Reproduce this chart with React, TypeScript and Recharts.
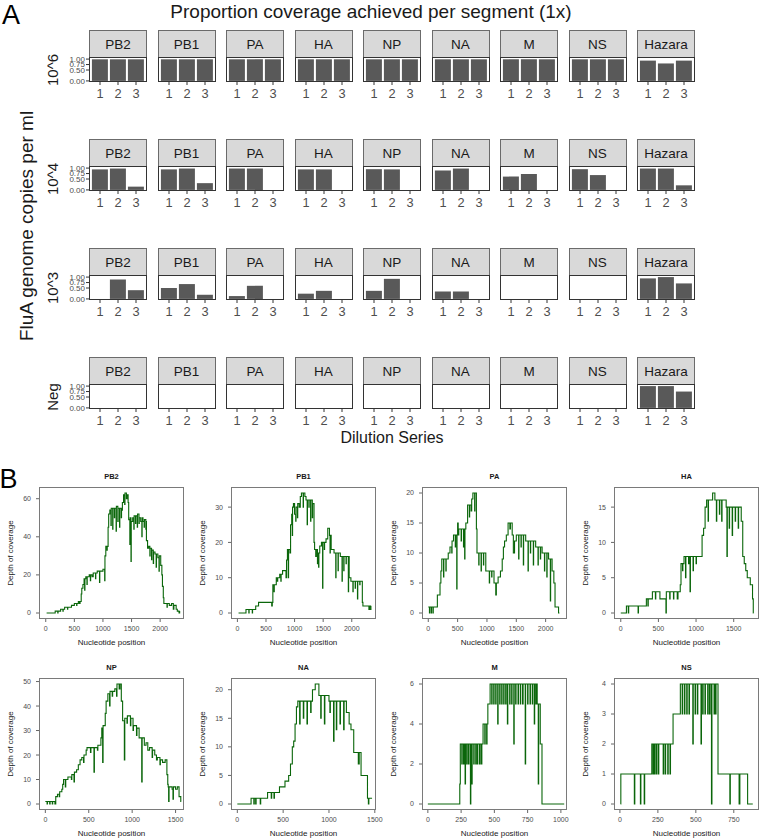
import React from 'react';
import { BarChart, Bar, XAxis, YAxis, LineChart, Line } from 'recharts';

const FONT = '"Liberation Sans", Arial, Helvetica, sans-serif';

// ---- Panel A: proportion of each segment covered at 1x ----
const segments = ['PB2', 'PB1', 'PA', 'HA', 'NP', 'NA', 'M', 'NS', 'Hazara'];
const dilutions = ['10^6', '10^4', '10^3', 'Neg'];
const replicates = ['1', '2', '3'];
const proportionTicks = [0, 0.5, 0.75, 1];

const coverage1e6 = [
  [0.99, 0.99, 0.99], [0.99, 0.99, 0.99], [0.99, 0.99, 0.99], [0.99, 0.99, 0.99], [0.99, 0.99, 0.99],
  [0.99, 0.99, 0.99], [0.99, 0.99, 0.99], [0.99, 0.99, 0.99], [0.93, 0.8, 0.93],
];
const coverage1e4 = [
  [0.94, 0.98, 0.15], [0.94, 0.98, 0.31], [0.98, 0.98, 0], [0.94, 0.94, 0], [0.95, 0.94, 0],
  [0.89, 0.98, 0], [0.61, 0.73, 0], [0.95, 0.68, 0], [0.98, 0.98, 0.21],
];
const coverage1e3 = [
  [0, 0.89, 0.4], [0.5, 0.68, 0.19], [0.13, 0.6, 0], [0.24, 0.37, 0], [0.37, 0.92, 0],
  [0.34, 0.34, 0], [0, 0, 0], [0, 0, 0], [0.94, 1, 0.71],
];
const coverageNeg = [
  [0, 0, 0], [0, 0, 0], [0, 0, 0], [0, 0, 0], [0, 0, 0],
  [0, 0, 0], [0, 0, 0], [0, 0, 0], [1, 1, 0.75],
];
const rowValues = [coverage1e6, coverage1e4, coverage1e3, coverageNeg];

// ---- Panel B: depth of coverage along each segment [position, depth] ----
const pb2Depth: [number, number][] = [
  [15, 0], [165, 1], [210, 0], [215, 1], [260, 2], [300, 1], [305, 2], [330, 3], [380, 2], [385, 3], [450, 4],
  [500, 5], [540, 4], [545, 5], [570, 6], [590, 5], [600, 6], [620, 10], [630, 13], [650, 15], [670, 18],
  [680, 12], [685, 18], [700, 19], [720, 15], [725, 19], [760, 20], [780, 17], [785, 20], [810, 19], [830, 21],
  [870, 18], [875, 21], [900, 22], [940, 16], [945, 22], [1000, 23], [1030, 17], [1035, 30], [1050, 35],
  [1070, 33], [1075, 35], [1090, 45], [1100, 52], [1120, 54], [1140, 46], [1145, 55], [1170, 44], [1175, 55],
  [1200, 50], [1205, 55], [1230, 43], [1235, 56], [1260, 48], [1265, 55], [1290, 45], [1295, 55], [1320, 50],
  [1325, 54], [1340, 58], [1360, 62], [1380, 57], [1385, 63], [1410, 60], [1420, 62], [1440, 58], [1450, 49],
  [1470, 36], [1475, 50], [1490, 27], [1495, 48], [1520, 50], [1540, 44], [1545, 51], [1570, 47], [1575, 51],
  [1600, 45], [1605, 52], [1630, 47], [1635, 50], [1660, 48], [1680, 40], [1685, 50], [1700, 48], [1720, 45],
  [1725, 49], [1750, 44], [1755, 48], [1760, 38], [1780, 34], [1800, 35], [1820, 30], [1825, 34], [1850, 28],
  [1855, 33], [1880, 26], [1885, 32], [1910, 31], [1930, 24], [1935, 31], [1960, 29], [1980, 22], [1985, 30],
  [2010, 25], [2030, 20], [2040, 14], [2055, 8], [2065, 5], [2100, 5], [2120, 3], [2125, 5], [2160, 4],
  [2200, 5], [2230, 2], [2240, 4], [2280, 2], [2300, 1], [2330, 0], [2341, 1],
];
const pb1Depth: [number, number][] = [
  [20, 0], [150, 1], [200, 0], [205, 1], [260, 0], [265, 1], [320, 2], [370, 3], [600, 2], [610, 3], [620, 8],
  [640, 6], [645, 8], [680, 10], [700, 9], [705, 10], [740, 11], [760, 9], [765, 11], [790, 12], [850, 10],
  [860, 15], [875, 18], [890, 10], [895, 18], [920, 17], [930, 25], [950, 28], [960, 22], [965, 30], [980, 31],
  [1000, 28], [1020, 26], [1025, 30], [1050, 27], [1055, 31], [1080, 30], [1100, 33], [1120, 34], [1150, 30],
  [1155, 34], [1180, 33], [1200, 32], [1220, 25], [1225, 32], [1250, 30], [1255, 32], [1280, 26], [1285, 32],
  [1310, 27], [1315, 31], [1340, 20], [1350, 18], [1370, 16], [1380, 18], [1400, 14], [1405, 17], [1420, 13],
  [1425, 17], [1440, 19], [1470, 20], [1490, 7], [1495, 20], [1520, 18], [1525, 20], [1550, 21], [1580, 24],
  [1610, 22], [1620, 17], [1625, 22], [1640, 18], [1690, 17], [1720, 10], [1725, 17], [1760, 12], [1765, 17],
  [1800, 16], [1830, 9], [1835, 16], [1860, 12], [1865, 16], [1900, 14], [1905, 16], [1940, 6], [1945, 16],
  [1955, 10], [1985, 9], [2020, 6], [2025, 9], [2060, 7], [2065, 9], [2100, 4], [2105, 9], [2140, 8],
  [2145, 9], [2185, 3], [2195, 2], [2300, 1], [2310, 2], [2330, 1], [2335, 2],
];
const paDepth: [number, number][] = [
  [0, 1], [20, 0], [25, 1], [50, 0], [55, 1], [80, 0], [85, 1], [155, 3], [190, 3], [200, 5], [215, 7],
  [230, 9], [260, 6], [265, 9], [300, 7], [305, 9], [340, 10], [370, 11], [400, 10], [405, 12], [430, 13],
  [460, 11], [465, 13], [485, 4], [490, 13], [500, 15], [510, 13], [520, 14], [560, 12], [565, 14], [600, 11],
  [605, 14], [620, 9], [625, 14], [640, 15], [670, 18], [700, 16], [705, 18], [730, 17], [740, 19], [760, 20],
  [790, 17], [795, 20], [820, 14], [830, 10], [860, 8], [865, 10], [900, 7], [905, 10], [940, 8], [945, 10],
  [980, 7], [1000, 7], [1040, 5], [1045, 7], [1080, 6], [1085, 7], [1120, 5], [1150, 3], [1160, 5], [1190, 6],
  [1230, 7], [1260, 9], [1280, 11], [1300, 12], [1330, 13], [1360, 15], [1390, 14], [1400, 15], [1430, 13],
  [1450, 10], [1470, 12], [1500, 13], [1540, 9], [1545, 13], [1580, 11], [1585, 13], [1620, 8], [1625, 13],
  [1660, 12], [1700, 7], [1705, 12], [1740, 10], [1745, 12], [1790, 8], [1795, 12], [1830, 11], [1870, 8],
  [1875, 11], [1910, 9], [1915, 11], [1940, 10], [1980, 7], [1985, 10], [2020, 6], [2025, 10], [2050, 9],
  [2080, 2], [2085, 9], [2110, 7], [2140, 5], [2160, 1], [2200, 1], [2220, 0], [2235, 0],
];
const haDepth: [number, number][] = [
  [0, 0], [75, 1], [100, 0], [105, 1], [230, 0], [235, 1], [340, 2], [360, 1], [365, 2], [420, 3], [460, 2],
  [465, 3], [500, 3], [520, 2], [560, 2], [600, 0], [605, 3], [650, 2], [655, 3], [700, 2], [705, 3], [750, 2],
  [760, 3], [790, 4], [800, 7], [820, 6], [825, 7], [840, 8], [860, 5], [865, 8], [900, 7], [905, 8], [920, 3],
  [925, 8], [960, 6], [965, 8], [1000, 7], [1005, 8], [1070, 8], [1080, 11], [1100, 12], [1120, 15],
  [1140, 16], [1160, 13], [1165, 16], [1220, 17], [1250, 16], [1270, 13], [1275, 16], [1310, 14], [1315, 16],
  [1340, 13], [1345, 16], [1400, 15], [1410, 8], [1415, 15], [1440, 12], [1445, 15], [1480, 11], [1485, 15],
  [1520, 13], [1525, 15], [1560, 12], [1565, 15], [1600, 13], [1620, 8], [1640, 7], [1660, 6], [1680, 5],
  [1720, 4], [1750, 2], [1760, 0], [1765, 0],
];
const npDepth: [number, number][] = [
  [0, 1], [20, 0], [25, 1], [50, 0], [55, 1], [80, 0], [85, 1], [110, 0], [120, 3], [140, 4], [160, 3],
  [165, 5], [190, 6], [200, 8], [210, 10], [230, 7], [235, 10], [260, 11], [300, 10], [305, 12], [330, 9],
  [335, 13], [360, 14], [380, 16], [400, 18], [420, 19], [440, 17], [445, 20], [470, 22], [480, 23], [520, 21],
  [525, 23], [560, 13], [565, 23], [600, 22], [605, 24], [640, 27], [650, 31], [660, 17], [665, 32], [690, 37],
  [700, 42], [720, 45], [740, 40], [745, 46], [770, 44], [775, 46], [800, 47], [820, 44], [825, 49], [850, 47],
  [860, 49], [875, 42], [890, 34], [910, 18], [915, 35], [940, 33], [945, 36], [980, 32], [985, 35], [1010, 30],
  [1015, 32], [1050, 28], [1055, 31], [1080, 27], [1110, 9], [1115, 27], [1140, 24], [1160, 25], [1180, 22],
  [1200, 23], [1230, 19], [1235, 22], [1260, 20], [1280, 18], [1290, 19], [1320, 16], [1325, 18], [1350, 17],
  [1380, 18], [1400, 12], [1410, 8], [1415, 7], [1420, 1], [1425, 7], [1460, 6], [1470, 2], [1475, 7],
  [1500, 6], [1520, 7], [1540, 3], [1560, 1], [1565, 1],
];
const naDepth: [number, number][] = [
  [0, 0], [150, 1], [180, 0], [185, 1], [200, 0], [205, 1], [250, 0], [255, 1], [330, 2], [370, 1], [375, 2],
  [400, 1], [405, 2], [460, 3], [520, 4], [560, 5], [580, 7], [600, 10], [615, 11], [630, 14], [645, 17],
  [660, 18], [680, 14], [685, 18], [720, 15], [725, 18], [760, 14], [765, 18], [800, 16], [805, 18], [820, 20],
  [850, 21], [890, 19], [910, 15], [915, 19], [950, 14], [955, 19], [1000, 18], [1010, 16], [1015, 18],
  [1050, 11], [1055, 18], [1080, 13], [1085, 18], [1120, 14], [1125, 18], [1160, 13], [1165, 18], [1190, 16],
  [1220, 14], [1240, 13], [1270, 9], [1320, 7], [1330, 9], [1350, 5], [1400, 5], [1420, 1], [1430, 0],
  [1435, 1], [1470, 1],
];
const mDepth: [number, number][] = [
  [0, 0], [237, 0], [240, 1], [244, 3], [255, 2], [258, 3], [268, 2], [272, 3], [280, 1], [283, 3], [292, 2],
  [296, 3], [306, 2], [309, 3], [320, 0], [323, 3], [330, 1], [333, 3], [345, 2], [348, 3], [360, 2], [363, 3],
  [372, 2], [375, 3], [388, 2], [392, 3], [402, 2], [406, 3], [415, 4], [428, 3], [431, 4], [442, 3], [445, 4],
  [451, 5], [468, 6], [480, 5], [483, 6], [495, 5], [498, 6], [510, 5], [513, 6], [525, 4], [528, 6], [540, 5],
  [543, 6], [555, 5], [558, 6], [570, 5], [573, 6], [585, 5], [588, 6], [598, 4], [601, 6], [615, 5], [618, 6],
  [630, 5], [633, 6], [646, 3], [649, 6], [660, 5], [663, 6], [678, 5], [681, 6], [695, 5], [698, 6], [712, 5],
  [716, 6], [732, 2], [735, 6], [750, 5], [753, 6], [768, 5], [771, 6], [785, 5], [788, 6], [800, 4], [803, 6],
  [812, 5], [815, 6], [822, 5], [830, 1], [833, 5], [845, 3], [858, 0], [1025, 0],
];
const nsDepth: [number, number][] = [
  [4, 0], [6, 1], [95, 0], [98, 1], [135, 0], [138, 1], [160, 0], [163, 1], [210, 2], [218, 1], [221, 2],
  [228, 1], [231, 2], [240, 1], [243, 2], [253, 1], [256, 2], [285, 1], [288, 2], [298, 1], [301, 2], [315, 1],
  [318, 2], [330, 1], [333, 2], [350, 3], [398, 4], [410, 3], [413, 4], [425, 3], [428, 4], [440, 3], [443, 4],
  [455, 3], [458, 4], [480, 2], [483, 4], [495, 3], [498, 4], [510, 3], [513, 4], [534, 2], [537, 4], [545, 3],
  [548, 4], [560, 3], [563, 4], [578, 3], [581, 4], [590, 3], [594, 4], [603, 0], [606, 4], [620, 3], [623, 4],
  [630, 3], [633, 4], [646, 1], [724, 0], [727, 1], [785, 0], [790, 1], [841, 0], [875, 0],
];

const profiles = [
  { name: 'PB2', points: pb2Depth, xDomain: [-118, 2417], xTicks: [0, 500, 1000, 1500, 2000], yDomain: [-3.15, 66.15], yTicks: [0, 20, 40, 60] },
  { name: 'PB1', points: pb1Depth, xDomain: [-112, 2424], xTicks: [0, 500, 1000, 1500, 2000], yDomain: [-1.7, 35.7], yTicks: [0, 10, 20, 30] },
  { name: 'PA', points: paDepth, xDomain: [-107, 2364], xTicks: [0, 500, 1000, 1500, 2000], yDomain: [-1, 21], yTicks: [0, 5, 10, 15, 20] },
  { name: 'HA', points: haDepth, xDomain: [-90, 1836], xTicks: [0, 500, 1000, 1500], yDomain: [-0.85, 17.85], yTicks: [0, 5, 10, 15] },
  { name: 'NP', points: npDepth, xDomain: [-73, 1597], xTicks: [0, 500, 1000, 1500], yDomain: [-2.45, 51.45], yTicks: [0, 10, 20, 30, 40, 50] },
  { name: 'NA', points: naDepth, xDomain: [-69, 1513], xTicks: [0, 500, 1000, 1500], yDomain: [-1.05, 22.05], yTicks: [0, 5, 10, 15, 20] },
  { name: 'M', points: mDepth, xDomain: [-44, 1046], xTicks: [0, 250, 500, 750, 1000], yDomain: [-0.3, 6.3], yTicks: [0, 2, 4, 6] },
  { name: 'NS', points: nsDepth, xDomain: [-39, 916], xTicks: [0, 250, 500, 750], yDomain: [-0.2, 4.2], yTicks: [0, 1, 2, 3, 4] },
];

// layout
const facetLefts = segments.map((_, i) => 89 + i * 68.5);
const facetTops = [30, 139, 248, 357];
const STRIP_H = 28;
const PANEL_W = 58;
const PANEL_H = 24;
const frameLefts = [39, 231, 422, 614];
const frameTops = [487, 678];
const FRAME_W = 145;
const FRAME_H = 132;

function Label({ x, y, size, rotate = false, bold = false, color = '#1a1a1a', children }: any) {
  return (
    <div
      style={{
        position: 'absolute', left: x, top: y, fontSize: size, lineHeight: 1, whiteSpace: 'nowrap',
        fontWeight: bold ? 700 : 400, color, fontFamily: FONT,
        transform: `translate(-50%, -50%)${rotate ? ' rotate(-90deg)' : ''}`,
      }}
    >
      {children}
    </div>
  );
}

function Facet({ label, values, left, top, showY }: any) {
  const data = replicates.map((rep, i) => ({ rep, value: values[i] }));
  const yw = showY ? 30 : 0;
  const padTop = 6;
  return (
    <>
      <div
        style={{
          position: 'absolute', left, top, width: PANEL_W, height: STRIP_H, boxSizing: 'border-box',
          background: '#d9d9d9', border: '1px solid #6b6b6b', display: 'flex', alignItems: 'center',
          justifyContent: 'center', fontSize: 13.5, color: '#1a1a1a', fontFamily: FONT,
        }}
      >
        {label}
      </div>
      <div style={{ position: 'absolute', left: left - yw, top: top + STRIP_H - padTop }}>
        <BarChart
          width={PANEL_W + yw} height={PANEL_H + 20 + padTop} data={data}
          margin={{ top: padTop, right: 0, bottom: 0, left: 0 }} barCategoryGap="5%"
        >
          <XAxis
            dataKey="rep" height={20} padding={{ left: 2, right: 2 }} axisLine={false} tickSize={3} tickMargin={4}
            tick={{ fontSize: 12.8, fill: '#4d4d4d', fontFamily: FONT }} tickLine={{ stroke: '#333' }} interval={0}
          />
          <YAxis
            type="number" domain={[-0.05, 1.05]} ticks={proportionTicks} allowDataOverflow hide={!showY} width={yw}
            axisLine={false} tickSize={3} tickMargin={1} interval={0}
            tick={{ fontSize: 8, fill: '#4d4d4d', fontFamily: FONT }} tickLine={{ stroke: '#333' }}
            tickFormatter={(v: number) => v.toFixed(2)}
          />
          <Bar dataKey="value" fill="#595959" isAnimationActive={false} />
        </BarChart>
      </div>
      <div
        style={{
          position: 'absolute', left, top: top + STRIP_H - 1, width: PANEL_W, height: PANEL_H + 1,
          boxSizing: 'border-box', border: '1px solid #333', pointerEvents: 'none',
        }}
      />
    </>
  );
}

function CoveragePanel({ p, left, top }: any) {
  const data = p.points.map(([pos, depth]: [number, number]) => ({ pos, depth }));
  const axisTick = { fontSize: 7, fill: '#4d4d4d', fontFamily: FONT };
  const padTop = 5;
  return (
    <>
      <Label x={left + FRAME_W / 2} y={top - 10} size={7.5} bold>{p.name}</Label>
      <div style={{ position: 'absolute', left: left - 30, top: top - padTop }}>
        <LineChart
          width={FRAME_W + 30 + 10} height={FRAME_H + 16 + padTop} data={data}
          margin={{ top: padTop, right: 10, bottom: 0, left: 0 }}
        >
          <XAxis
            type="number" dataKey="pos" domain={p.xDomain} ticks={p.xTicks} allowDataOverflow height={16}
            axisLine={false} tickSize={3} tickMargin={4} interval={0} tick={axisTick} tickLine={{ stroke: '#666' }}
          />
          <YAxis
            type="number" domain={p.yDomain} ticks={p.yTicks} allowDataOverflow width={30}
            axisLine={false} tickSize={3} tickMargin={5} interval={0} tick={axisTick} tickLine={{ stroke: '#666' }}
          />
          <Line type="stepAfter" dataKey="depth" stroke="#0a660a" strokeWidth={1.1} dot={false} isAnimationActive={false} />
        </LineChart>
      </div>
      <div
        style={{
          position: 'absolute', left, top, width: FRAME_W, height: FRAME_H, boxSizing: 'border-box',
          border: '1px solid #7a7a7a', pointerEvents: 'none',
        }}
      />
      <Label x={left - 28} y={top + FRAME_H / 2} size={8} rotate>Depth of coverage</Label>
      <Label x={left + FRAME_W / 2} y={top + FRAME_H + 24} size={8}>Nucleotide position</Label>
    </>
  );
}

export default function App() {
  return (
    <div style={{ position: 'absolute', left: 0, top: 0, width: 760, height: 840, background: '#fff', fontFamily: FONT }}>
      <Label x={11} y={14.5} size={27} color="#000">A</Label>
      <Label x={371} y={10.5} size={19}>Proportion coverage achieved per segment (1x)</Label>
      <Label x={26} y={226} size={19} rotate>FluA genome copies per ml</Label>
      {dilutions.map((d, r) => (
        <Label key={d} x={52} y={facetTops[r] + STRIP_H + PANEL_H / 2} size={15} rotate>{d}</Label>
      ))}
      {dilutions.map((d, r) =>
        segments.map((s, c) => (
          <Facet key={`${d}-${s}`} label={s} values={rowValues[r][c]} left={facetLefts[c]} top={facetTops[r]} showY={c === 0} />
        ))
      )}
      <Label x={392} y={438} size={16}>Dilution Series</Label>

      <Label x={8.5} y={479} size={27} color="#000">B</Label>
      {profiles.map((p, i) => (
        <CoveragePanel key={p.name} p={p} left={frameLefts[i % 4]} top={frameTops[Math.floor(i / 4)]} />
      ))}
    </div>
  );
}
